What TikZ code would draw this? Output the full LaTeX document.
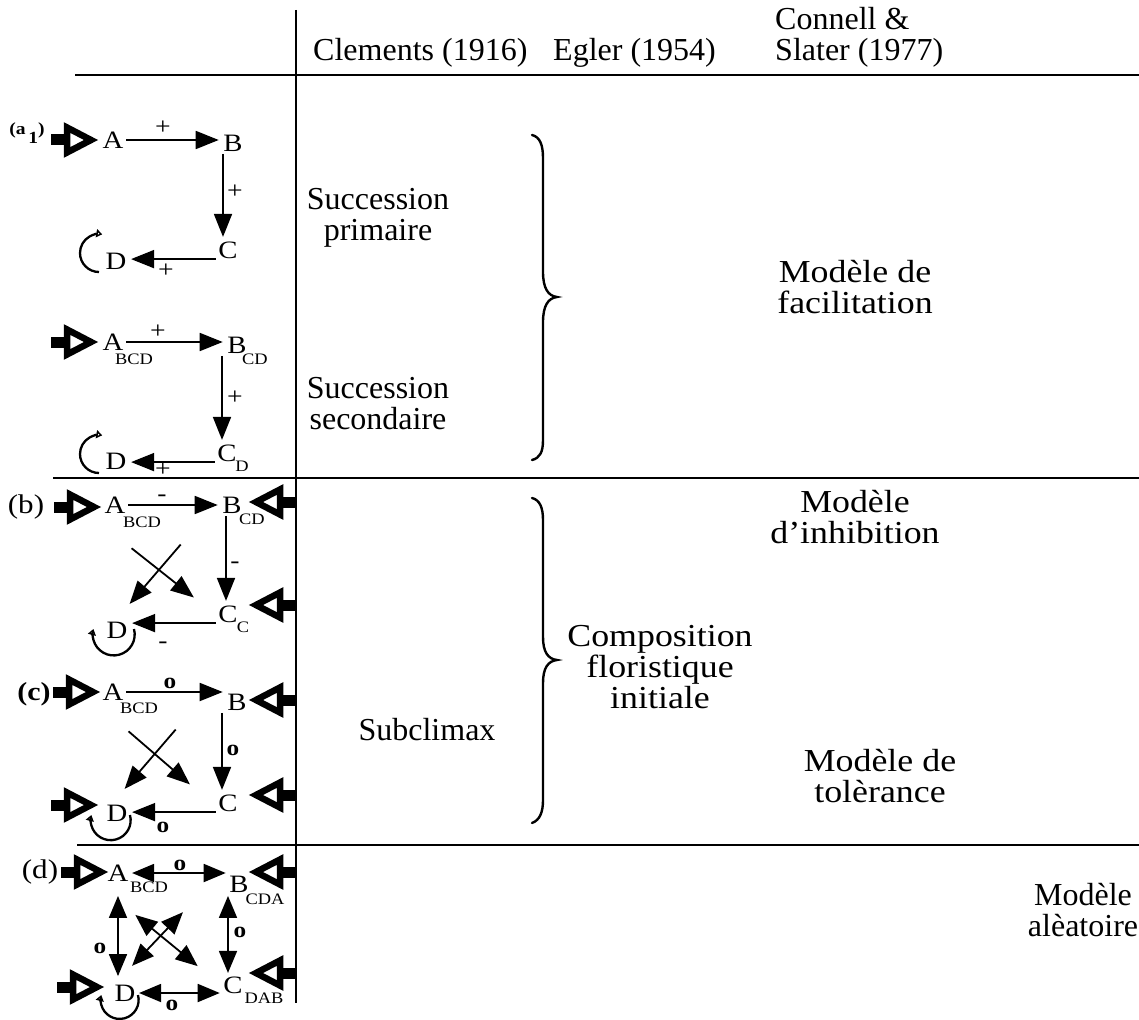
\documentclass[tikz,border=0pt]{standalone}
\usepackage{fontspec}
\setmainfont{Liberation Serif}
\newfontfamily\wfont{Liberation Serif}[FakeStretch=1.12]
\newfontfamily\dfont{Liberation Serif}[FakeStretch=1.15]
\usetikzlibrary{arrows.meta,calc}

\tikzset{
  % thick hollow arrow that feeds a species from outside
  feed/.pic={
    \fill (0,-5.5) rectangle (18,5.5);
    \draw[line width=6.5pt, line join=miter, miter limit=10, fill=white]
      (16,-12.5) -- (40,0) -- (16,12.5) -- cycle;
  }
}

\begin{document}
\begin{tikzpicture}[x=1pt,y=-1pt,
  txt/.style={font=\fontsize{32}{31}\selectfont, align=center, inner sep=0pt},
  wtxt/.style={font=\wfont\fontsize{32}{31}\selectfont, align=center, inner sep=0pt},
  ltr/.style={font=\dfont\fontsize{25}{26}\selectfont, inner sep=0.5pt},
  sub/.style={font=\dfont\fontsize{16}{17}\selectfont, inner sep=0pt},
  sgn/.style={font=\dfont\fontsize{24}{24}\selectfont, inner sep=0pt},
  osgn/.style={font=\dfont\bfseries\fontsize{22}{22}\selectfont, inner sep=0pt},
  tag/.style={font=\dfont\fontsize{27}{28}\selectfont, inner sep=0pt},
  rel/.style={line width=1.8pt, shorten <=2pt, shorten >=4pt,
              -{Triangle[length=23pt,width=18pt]}},
  both/.style={line width=1.8pt, shorten <=3pt, shorten >=3pt,
              {Triangle[length=22pt,width=18pt]}-{Triangle[length=22pt,width=18pt]}},
  selfloop/.style={line width=2.3pt, -{Triangle[open,length=6pt,width=8pt]}},
  rule/.style={line width=1.8pt},
  brace/.style={line width=2.4pt, line cap=round},
]
\useasboundingbox (0,0) rectangle (1139,1019);

% ---------- table frame ----------
\draw[rule] (296,10) -- (296,1003);
\draw[rule] (75,75) -- (1139,75);
\draw[rule] (53,478) -- (1139,478);
\draw[rule] (77,845) -- (1139,845);

% ---------- column headers ----------
\node[txt, anchor=base west] (hClem) at (313,61) {Clements (1916)};
\node[txt, anchor=base west] (hEgl) at (553,61) {Egler (1954)};
\node[txt, anchor=base west] (hCon) at (775,30) {Connell \&};
\node[txt, anchor=base west] (hSla) at (775,61) {Slater (1977)};

% ---------- classification texts ----------
\node[txt] (sPrim) at (378,218) {Succession\\primaire};
\node[txt] (sSec) at (378,404) {Succession\\secondaire};
\node[wtxt] (mFac) at (855,287) {Modèle de\\facilitation};
\node[wtxt] (mInh) at (855,517) {Modèle\\d’inhibition};
\node[wtxt] (cFlo) at (660,667) {Composition\\floristique\\initiale};
\node[txt] (sSub) at (427,730) {Subclimax};
\node[wtxt] (mTol) at (880,776) {Modèle de\\tolèrance};
\node[txt] (mAle) at (1083,910) {Modèle\\alèatoire};

% ---------- braces ----------
\draw[brace] (532,135) .. controls (540,137) and (543,145) .. (543,158)
  -- (543,272) .. controls (543,288) and (548,296) .. (557,297)
  .. controls (548,298) and (543,306) .. (543,322)
  -- (543,440) .. controls (543,452) and (540,458) .. (532,460);
\draw[brace] (532,498) .. controls (540,500) and (543,508) .. (543,520)
  -- (543,637) .. controls (543,652) and (548,659) .. (557,660)
  .. controls (548,661) and (543,668) .. (543,683)
  -- (543,800) .. controls (543,812) and (540,820) .. (532,823);

% ---------- (a1) primary succession ----------
\node[font=\dfont\bfseries\fontsize{17}{17}\selectfont, inner sep=0pt] (ta) at (27,133) {(a\,\raisebox{-9pt}{1})};
\node[ltr] (A1) at (113,140) {A};
\node[ltr] (B1) at (233,143) {B};
\node[ltr] (C1) at (228,250) {C};
\node[ltr] (D1) at (116,261) {D};
\pic at (51,140) {feed};
\draw[rel] (A1.east) -- (A1.east -| B1.west);
\draw[rel] ([xshift=-10pt]B1.south) -- ([xshift=-10pt]B1.south |- C1.north);
\draw[rel] (C1.south west) -- (C1.south west -| D1.east);
\draw[selfloop] ($(D1.center)+(-17,11)$) arc[start angle=90, end angle=280, radius=19];
\node[sgn] (pa1) at (163,128) {+};
\node[sgn] (pa2) at (235,192) {+};
\node[sgn] (pa3) at (166,271) {+};

% ---------- (a2) secondary succession ----------
\node[ltr] (A2) at (113,342) {A};
\node[sub] (A2s) at (134,359) {BCD};
\node[ltr] (B2) at (237,345) {B};
\node[sub] (B2s) at (255,359) {CD};
\node[ltr] (C2) at (227,453) {C};
\node[sub] (C2s) at (242,466) {D};
\node[ltr] (D2) at (116,461) {D};
\pic at (51,342) {feed};
\draw[rel] (A2.east) -- (A2.east -| B2.west);
\draw[rel] ([xshift=-15pt]B2.south) -- ([xshift=-15pt]B2.south |- C2.north);
\draw[rel] (C2.south west) -- (C2.south west -| D2.east);
\draw[selfloop] ($(D2.center)+(-17,12)$) arc[start angle=90, end angle=280, radius=19];
\node[sgn] (pb1) at (158,332) {+};
\node[sgn] (pb2) at (235,398) {+};
\node[sgn] (pb3) at (163,470) {+};

% ---------- (b) inhibition ----------
\node[tag] (tb) at (26,507) {(b)};
\node[ltr] (A3) at (115,505) {A};
\node[sub] (A3s) at (142,522) {BCD};
\node[ltr] (B3) at (232,505) {B};
\node[sub] (B3s) at (252,519) {CD};
\node[ltr] (C3) at (228,614) {C};
\node[sub] (C3s) at (243,627) {C};
\node[ltr] (D3) at (117,630) {D};
\pic at (54,507) {feed};
\pic[rotate=180] at (296,502) {feed};
\pic[rotate=180] at (296,605) {feed};
\draw[rel] (A3.east) -- (A3.east -| B3.west);
\draw[rel] ([xshift=-6pt]B3.south) -- ([xshift=-6pt]B3.south |- C3.north);
\draw[rel] (C3.south west) -- (C3.south west -| D3.east);
\draw[rel] ($(B3)+(-50,38)$) -- ($(D3)+(10,-23)$);
\draw[rel] ($(A3)+(15,42)$) -- ($(C3)+(-31,-14)$);
\draw[selfloop] ($(D3.center)+(17,-1)$) arc[start angle=-15, end angle=195, radius=21];
\node[sgn] (mb1) at (162,498) {-};
\node[sgn] (mb2) at (235,565) {-};
\node[sgn] (mb3) at (163,645) {-};

% ---------- (c) tolerance ----------
\node[tag, font=\dfont\bfseries\fontsize{26}{28}\selectfont] (tc) at (34,694) {(c)};
\node[ltr] (A4) at (113,692) {A};
\node[sub] (A4s) at (139,708) {BCD};
\node[ltr] (B4) at (237,702) {B};
\node[ltr] (C4) at (228,803) {C};
\node[ltr] (D4) at (117,813) {D};
\pic at (53,692) {feed};
\pic at (51,805) {feed};
\pic[rotate=180] at (296,700) {feed};
\pic[rotate=180] at (296,795) {feed};
\draw[rel] (A4.east) -- (A4.east -| B4.west);
\draw[rel] ([xshift=-15pt]B4.south) -- ([xshift=-15pt]B4.south |- C4.north);
\draw[rel] (C4.south west) -- (C4.south west -| D4.east);
\draw[rel] ($(B4)+(-60,26)$) -- ($(D4)+(5,-21)$);
\draw[rel] ($(A4)+(14,38)$) -- ($(C4)+(-35,-16)$);
\draw[selfloop] ($(D4.center)+(13,2)$) arc[start angle=-15, end angle=195, radius=20];
\node[osgn] (oc1) at (170,683) {o};
\node[osgn] (oc2) at (233,750) {o};
\node[osgn] (oc3) at (163,827) {o};

% ---------- (d) random model ----------
\node[tag] (td) at (40,872) {(d)};
\node[ltr] (A5) at (118,873) {A};
\node[sub] (A5s) at (149,887) {BCD};
\node[ltr] (B5) at (239,884) {B};
\node[sub] (B5s) at (265,899) {CDA};
\node[ltr] (C5) at (233,985) {C};
\node[sub] (C5s) at (264,998) {DAB};
\node[ltr] (D5) at (125,993) {D};
\pic at (61,872) {feed};
\pic at (57,987) {feed};
\pic[rotate=180] at (296,872) {feed};
\pic[rotate=180] at (296,973) {feed};
\draw[both] (A5.east) -- (A5.east -| B5.west);
\draw[both, shorten <=14pt, shorten >=8pt] (A5.south) -- (A5.south |- D5.north);
\draw[both] ([xshift=-11pt]B5.south) -- ([xshift=-11pt]B5.south |- C5.north);
\draw[both] (D5.east) -- (D5.east -| C5.west);
\draw[both] ($(B5)+(-54,26)$) -- ($(D5)+(5,-25)$);
\draw[both] ($(A5)+(15,40)$) -- ($(C5)+(-33,-17)$);
\draw[selfloop] ($(D5.center)+(13,2)$) arc[start angle=-15, end angle=195, radius=19];
\node[osgn] (od1) at (180,865) {o};
\node[osgn] (od2) at (100,948) {o};
\node[osgn] (od3) at (240,932) {o};
\node[osgn] (od4) at (172,1005) {o};
\end{tikzpicture}
\end{document}
